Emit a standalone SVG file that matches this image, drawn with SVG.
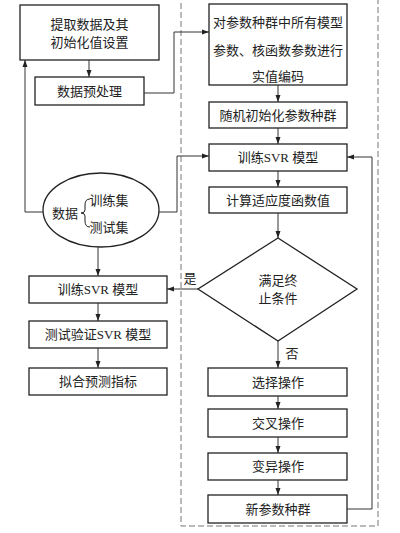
<svg xmlns="http://www.w3.org/2000/svg" width="400" height="533" viewBox="0 0 400 533">
<style>
.box{fill:#fff;stroke:#222;stroke-width:1.3}
.t{font-family:"Liberation Serif","Noto Sans CJK SC",serif;font-size:13px;fill:#222;text-anchor:middle;dominant-baseline:central}
.c{fill:none;stroke:#333;stroke-width:1}
.dash{fill:none;stroke:#777;stroke-width:1;stroke-dasharray:6,3}
</style>
<defs>
<marker id="ah" markerWidth="8" markerHeight="6" refX="7" refY="3" orient="auto" markerUnits="userSpaceOnUse">
<path d="M0,0.5 L7,3 L0,5.5 Z" fill="#222"/>
</marker>
</defs>
<rect fill="#fff" width="400" height="533"/>
<rect class="dash" x="181" y="-3" width="197" height="529"/>

<g id="n1"><rect class="box" x="20" y="5" width="139" height="55"/><text class="t" x="89.5" y="24">提取数据及其</text><text class="t" x="89.5" y="42">初始化值设置</text></g>
<g id="n2"><rect class="box" x="35" y="77" width="109" height="28"/><text class="t" x="89.5" y="91">数据预处理</text></g>
<g id="n3"><ellipse class="box" cx="101" cy="210" rx="58" ry="37"/><text class="t" x="65" y="213">数据</text><path d="M90,199 Q85,199 85,205 L85,210 Q85,213 81,213 Q85,213 85,216 L85,221 Q85,227 90,227" fill="none" stroke="#222" stroke-width="1"/><text class="t" x="109" y="200">训练集</text><text class="t" x="109" y="227">测试集</text></g>
<g id="n4"><rect class="box" x="29" y="276" width="138" height="27"/><text class="t" x="98" y="289.5">训练SVR 模型</text></g>
<g id="n5"><rect class="box" x="29" y="321" width="138" height="27"/><text class="t" x="98" y="334.5">测试验证SVR 模型</text></g>
<g id="n6"><rect class="box" x="29" y="368" width="138" height="27"/><text class="t" x="98" y="381.5">拟合预测指标</text></g>

<g id="r1"><rect class="box" x="209" y="4" width="138" height="81"/><text class="t" x="278" y="22">对参数种群中所有模型</text><text class="t" x="278" y="50">参数、核函数参数进行</text><text class="t" x="278" y="76">实值编码</text></g>
<g id="r2"><rect class="box" x="209" y="102" width="138" height="26"/><text class="t" x="278" y="115">随机初始化参数种群</text></g>
<g id="r3"><rect class="box" x="209" y="144" width="138" height="27"/><text class="t" x="278" y="157.5">训练SVR 模型</text></g>
<g id="r4"><rect class="box" x="209" y="187" width="138" height="26"/><text class="t" x="278" y="200">计算适应度函数值</text></g>
<g id="r5"><polygon class="box" points="278,238 357,289 278,341 198,289"/><text class="t" x="278" y="280">满足终</text><text class="t" x="278" y="298">止条件</text></g>
<g id="r6"><rect class="box" x="208" y="368" width="139" height="28"/><text class="t" x="278" y="382">选择操作</text></g>
<g id="r7"><rect class="box" x="208" y="409" width="139" height="28"/><text class="t" x="278" y="423">交叉操作</text></g>
<g id="r8"><rect class="box" x="208" y="453" width="139" height="27"/><text class="t" x="278" y="466.5">变异操作</text></g>
<g id="r9"><rect class="box" x="208" y="495" width="139" height="28"/><text class="t" x="278" y="509">新参数种群</text></g>

<g id="connectors">
<path class="c" d="M89,60 V77" marker-end="url(#ah)"/>
<path class="c" d="M144,93 H174 V32 H209" marker-end="url(#ah)"/>
<path class="c" d="M43,212 H25 V60" marker-end="url(#ah)"/>
<path class="c" d="M159,212 H177 V156 H209" marker-end="url(#ah)"/>
<path class="c" d="M98,247 V276" marker-end="url(#ah)"/>
<path class="c" d="M98,303 V321" marker-end="url(#ah)"/>
<path class="c" d="M98,348 V368" marker-end="url(#ah)"/>
<path class="c" d="M278,85 V102" marker-end="url(#ah)"/>
<path class="c" d="M278,128 V144" marker-end="url(#ah)"/>
<path class="c" d="M278,171 V187" marker-end="url(#ah)"/>
<path class="c" d="M278,213 V238" marker-end="url(#ah)"/>
<path class="c" d="M198,289 H167" marker-end="url(#ah)"/>
<path class="c" d="M278,341 V368" marker-end="url(#ah)"/>
<path class="c" d="M278,396 V409" marker-end="url(#ah)"/>
<path class="c" d="M278,437 V453" marker-end="url(#ah)"/>
<path class="c" d="M278,480 V495" marker-end="url(#ah)"/>
<path class="c" d="M347,509 H372 V157 H347" marker-end="url(#ah)"/>
<text class="t" x="190" y="278">是</text>
<text class="t" x="292" y="353">否</text>
</g>
</svg>
